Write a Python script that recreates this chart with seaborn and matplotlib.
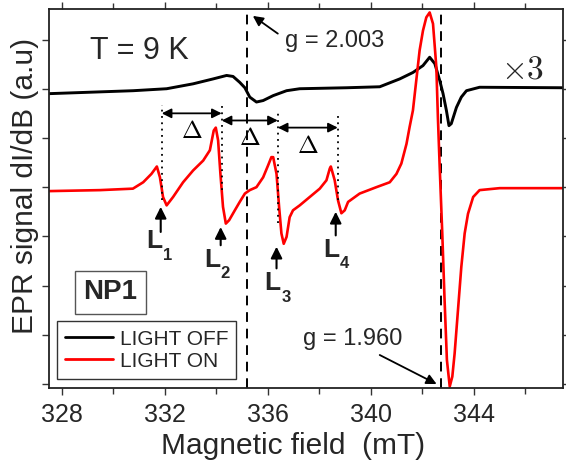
import numpy as np
import pandas as pd
import matplotlib
matplotlib.use("Agg")
import matplotlib.pyplot as plt
import matplotlib.ticker as mticker
import seaborn as sns

# ── data (field in mT, signal in arbitrary units) ─────────────────────────────
field_off = [327.50, 330.77, 332.07, 333.10, 333.88, 334.40, 334.65, 334.91,
             335.11, 335.30, 335.56, 335.82, 336.21, 336.73, 337.24, 339.06,
             340.35, 341.13, 341.64, 342.03, 342.29, 342.49, 342.68, 342.81,
             342.94, 343.04, 343.13, 343.33, 343.52, 343.72, 344.23, 347.46]
signal_off = [5.90, 5.96, 6.00, 6.10, 6.20, 6.27, 6.25, 6.13,
              6.02, 5.83, 5.73, 5.76, 5.86, 5.96, 6.00, 6.02,
              6.04, 6.20, 6.33, 6.47, 6.64, 6.51, 6.17, 5.90,
              5.56, 5.25, 5.29, 5.62, 5.83, 5.96, 6.03, 6.02]

field_on = [327.50, 329.48, 330.76, 331.16, 331.48, 331.69, 331.81, 331.93,
            332.07, 332.32, 332.71, 333.10, 333.49, 333.75, 333.90, 333.98,
            334.07, 334.16, 334.26, 334.37, 334.50, 334.72, 334.91, 335.11,
            335.30, 335.56, 335.82, 336.01, 336.14, 336.21, 336.34, 336.44,
            336.53, 336.62, 336.73, 336.85, 336.98, 337.24, 337.63, 338.02,
            338.28, 338.41, 338.45, 338.60, 338.73, 338.86, 338.99, 339.12,
            339.57, 340.22, 340.74, 341.00, 341.19, 341.39, 341.51, 341.64,
            341.77, 341.90, 342.03, 342.16, 342.29, 342.42, 342.55, 342.61,
            342.68, 342.78, 342.87, 342.96, 343.07, 343.17, 343.26, 343.39,
            343.52, 343.65, 343.78, 343.98, 344.23, 345.01, 347.46]
signal_on = [3.92, 3.94, 3.97, 4.10, 4.27, 4.42, 4.20, 3.80,
             3.63, 3.80, 4.10, 4.34, 4.54, 4.75, 5.15, 5.21,
             4.95, 4.27, 3.60, 3.26, 3.33, 3.53, 3.70, 3.87,
             3.94, 4.00, 4.20, 4.44, 4.61, 4.61, 4.27, 3.60,
             3.06, 2.85, 2.99, 3.39, 3.53, 3.63, 3.80, 3.97,
             4.14, 4.38, 4.42, 4.14, 3.73, 3.47, 3.53, 3.70,
             3.87, 4.00, 4.10, 4.27, 4.48, 4.88, 5.22, 5.56,
             6.17, 6.78, 7.18, 7.45, 7.55, 7.32, 6.44, 5.42,
             4.41, 3.06, 1.70, 0.49, -0.05, 0.15, 0.62, 1.50,
             2.38, 3.06, 3.46, 3.80, 3.94, 3.98, 3.98]

g_lines = [335.18, 342.74]           # g = 2.003, g = 1.960
delta_marks = [331.88, 334.21, 336.39, 338.72]
line_labels = ["1", "2", "3", "4"]
line_arrow_x = [331.84, 334.17, 336.34, 338.64]

sns.set_style("ticks")
plt.rcParams["font.family"] = ["Liberation Sans", "DejaVu Sans"]
plt.rcParams["mathtext.fontset"] = "cm"

df = pd.concat([
    pd.DataFrame({"field": field_off, "signal": signal_off, "state": "LIGHT OFF"}),
    pd.DataFrame({"field": field_on, "signal": signal_on, "state": "LIGHT ON"}),
])

fig = plt.figure(figsize=(5.66, 4.61), dpi=100, facecolor="white")
ax = fig.add_axes([0.0866, 0.1584, 0.9076, 0.8210])

sns.lineplot(data=df, x="field", y="signal", hue="state", sort=False,
             palette={"LIGHT OFF": "black", "LIGHT ON": "red"},
             linewidth=1.8, ax=ax, legend=False)
for ln, lw in zip(ax.lines, [2.1, 1.9]):
    ln.set_linewidth(lw)
    ln.set_solid_joinstyle("round")

ax.set_xlim(327.5, 347.46)
ax.set_ylim(-0.08, 7.61)

for gx in g_lines:
    ax.axvline(gx, color="black", linestyle=(0, (5, 3.5)), linewidth=1.4, zorder=1)

# ── Δ spacing markers ────────────────────────────────────────────────────────
dot_top = [5.66, 5.66, 5.50, 5.50]
dot_bot = [3.73, 3.94, 3.27, 3.73]
for xm, t, b in zip(delta_marks, dot_top, dot_bot):
    ax.plot([xm, xm], [b, t], color="black", linestyle=(0, (1, 2.5)), linewidth=1.3)
arrow_y = [5.50, 5.355, 5.21]
for i, ay in enumerate(arrow_y):
    x0, x1 = delta_marks[i], delta_marks[i + 1]
    ax.annotate("", xy=(x1, ay), xytext=(x0, ay),
                arrowprops=dict(arrowstyle="<|-|>", color="black", lw=1.3,
                                mutation_scale=14, shrinkA=0, shrinkB=0))
    ax.text((x0 + x1) / 2, ay - 0.12, r"$\Delta$", ha="center", va="top",
            fontsize=18, color="black")

# ── L1..L4 labels ────────────────────────────────────────────────────────────
tips = [3.60, 3.19, 2.79, 3.50]
tails = [3.09, 2.82, 2.35, 3.02]
l_pos = [(331.29, 2.76), (333.55, 2.37), (335.88, 1.91), (338.14, 2.58)]
sub_pos = [(331.92, 2.52), (334.14, 2.15), (336.54, 1.66), (338.80, 2.35)]
for xa, tp, tl, (lx, ly), (sx, sy), lab in zip(line_arrow_x, tips, tails,
                                                 l_pos, sub_pos, line_labels):
    ax.annotate("", xy=(xa, tp), xytext=(xa, tl),
                arrowprops=dict(arrowstyle="-|>", color="black", lw=1.5,
                                mutation_scale=17, shrinkA=0, shrinkB=0))
    ax.text(lx, ly, "L", fontsize=19, fontweight="bold", ha="left", va="baseline")
    ax.text(sx, sy, lab, fontsize=12, fontweight="bold", ha="left", va="baseline")

# ── text annotations ─────────────────────────────────────────────────────────
ax.text(329.09, 6.61, "T = 9 K", fontsize=22, ha="left", va="baseline")
ax.text(345.05, 6.21, r"$\times 3$", fontsize=24, ha="left", va="baseline")
ax.text(336.66, 6.84, "g = 2.003", fontsize=17, ha="left", va="baseline")
ax.annotate("", xy=(335.42, 7.48), xytext=(336.39, 7.12),
            arrowprops=dict(arrowstyle="-|>", color="black", lw=1.3,
                            mutation_scale=15, shrinkA=0, shrinkB=0))
ax.text(337.36, 0.79, "g = 1.960", fontsize=17, ha="left", va="baseline")
ax.annotate("", xy=(342.56, 0.0), xytext=(340.35, 0.59),
            arrowprops=dict(arrowstyle="-|>", color="black", lw=1.3,
                            mutation_scale=15, shrinkA=0, shrinkB=0))
ax.text(329.88, 1.86, "NP1", fontsize=20, fontweight="bold", ha="center",
        va="center", bbox=dict(boxstyle="square,pad=0.3", facecolor="white",
                               edgecolor="#555555", linewidth=1.0))

# ── legend ───────────────────────────────────────────────────────────────────
handles = [plt.Line2D([], [], color="black", lw=2.0),
           plt.Line2D([], [], color="red", lw=2.0)]
leg = ax.legend(handles, ["LIGHT OFF", "LIGHT ON"], loc="lower left",
                bbox_to_anchor=(0.0156, 0.0237), borderaxespad=0,
                fontsize=15, frameon=True, fancybox=False, framealpha=1,
                edgecolor="#333333", handlelength=2.3, handletextpad=0.3,
                labelspacing=0.15, borderpad=0.4)
leg.get_frame().set_linewidth(1.0)

# ── axes styling ─────────────────────────────────────────────────────────────
ax.xaxis.set_major_locator(mticker.MultipleLocator(4))
ax.xaxis.set_minor_locator(mticker.MultipleLocator(2))
ax.yaxis.set_major_locator(mticker.MultipleLocator(1))
ax.yaxis.set_major_formatter(mticker.NullFormatter())
ax.tick_params(axis="both", which="both", direction="out", top=True, right=True,
               width=1.0, color="#333333")
ax.tick_params(axis="both", which="major", length=5, labelsize=18, pad=6)
ax.tick_params(axis="both", which="minor", length=4)
for sp in ax.spines.values():
    sp.set_visible(True)
    sp.set_linewidth(1.3)
    sp.set_color("#222222")

ax.set_xlabel("Magnetic field  (mT)", fontsize=21.5, labelpad=0)
ax.set_ylabel("EPR signal dI/dB (a.u)", fontsize=21.5)
ax.xaxis.set_label_coords(0.475, -0.115)
ax.yaxis.set_label_coords(-0.02, 0.534)

fig.savefig("out.png", dpi=100, facecolor="white")
